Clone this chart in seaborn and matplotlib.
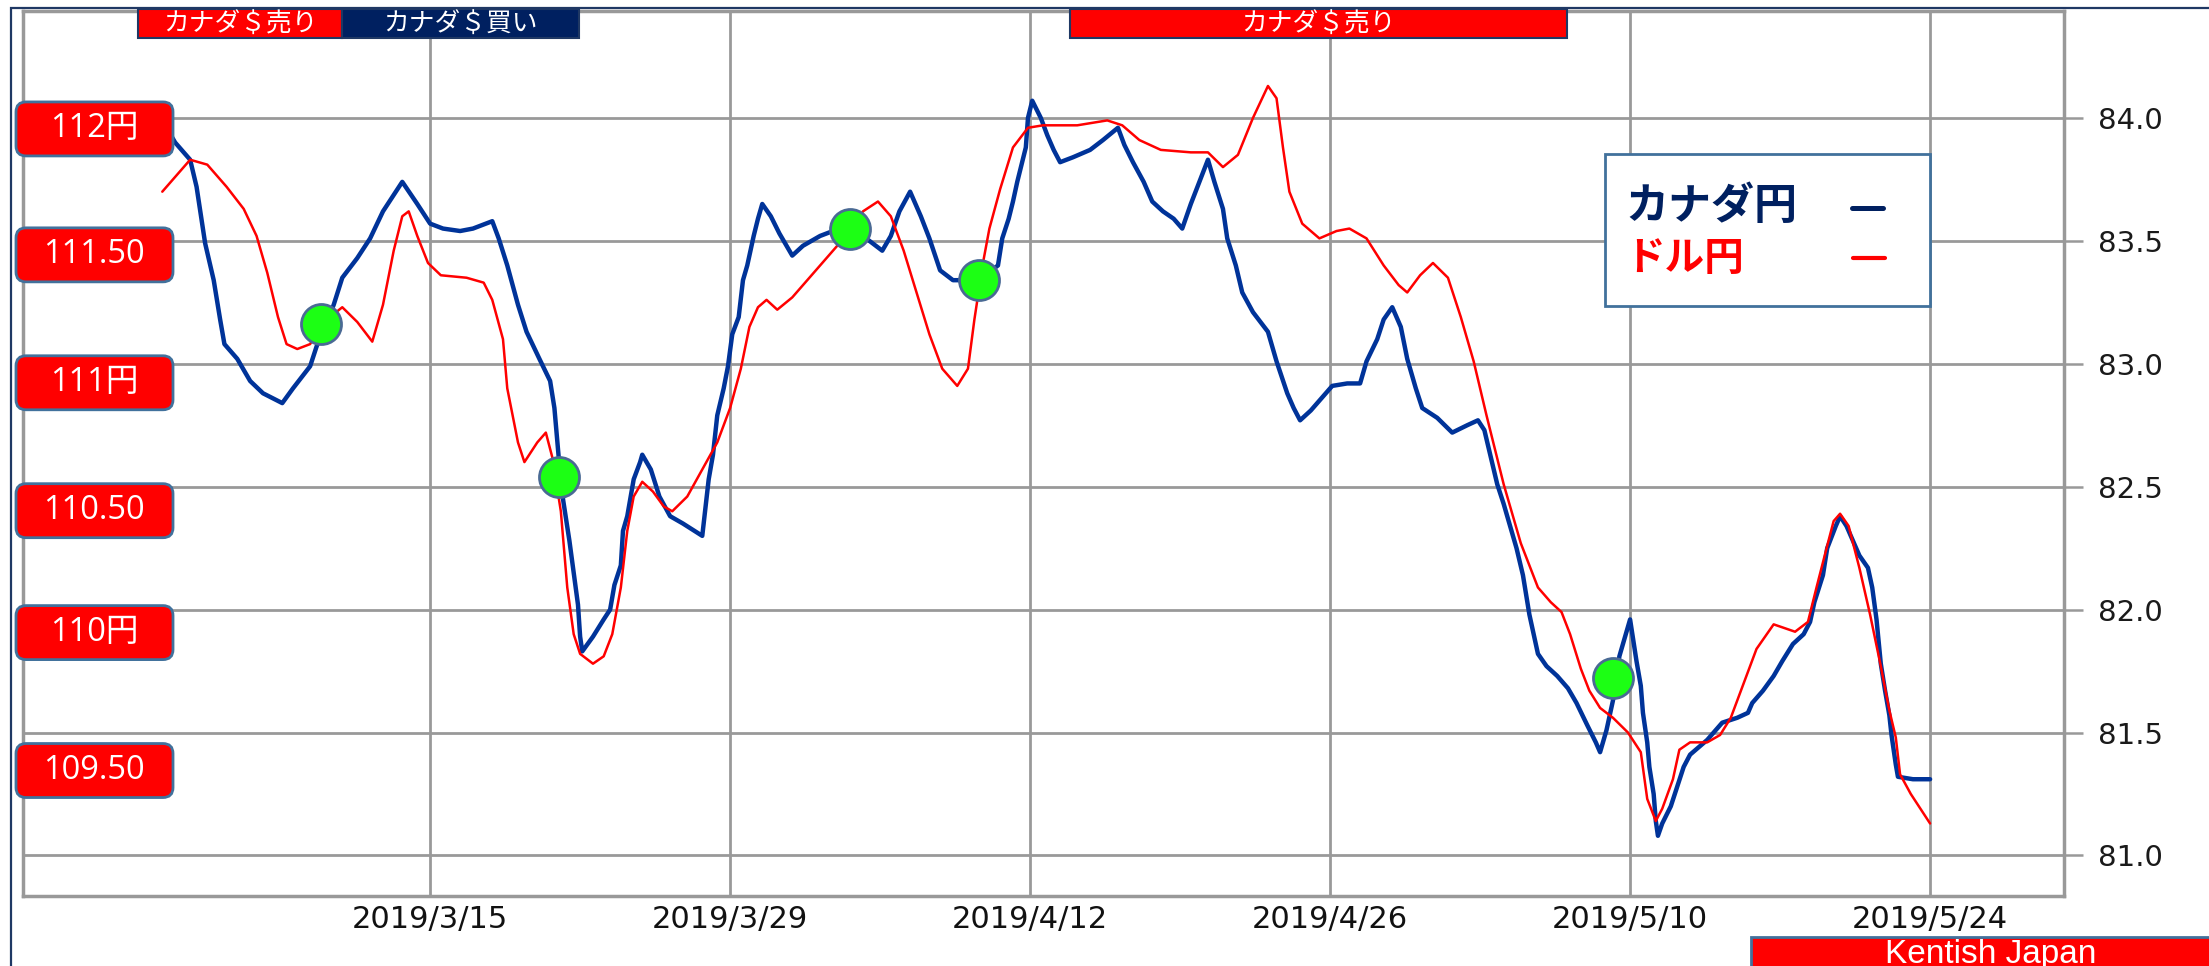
import numpy as np
import pandas as pd
import matplotlib
matplotlib.use("Agg")
import matplotlib.pyplot as plt
import matplotlib.dates as mdates
import seaborn as sns
from matplotlib.patches import Rectangle, FancyBboxPatch
from matplotlib.lines import Line2D
from matplotlib.transforms import IdentityTransform, blended_transform_factory

sns.set_theme(style="white")
plt.rcParams["font.family"] = ["DejaVu Sans", "Noto Sans CJK JP"]

# ==== data
base_date = pd.Timestamp("2019-03-01")

# カナダ円 (CAD/JPY, right axis); time in days since 2019-03-01
cad_day = [
    1.9, 2.1, 2.8, 3.1, 3.5, 3.9, 4.2, 4.4, 5.0, 5.6, 6.2, 7.1, 7.6, 8.4, 8.7,
    9.5, 9.9, 10.6, 11.2, 11.8, 12.4, 12.7, 13.4, 14.0, 14.6, 15.4, 16.0, 16.9,
    17.2, 17.6, 18.1, 18.5, 19.1, 19.6, 19.8, 20.0, 20.2, 20.5, 20.9, 21.0, 21.1,
    21.6, 22.1, 22.4, 22.6, 22.9, 23.0, 23.2, 23.5, 23.8, 23.9, 24.3, 24.7, 25.2,
    25.8, 26.7, 27.0, 27.2, 27.4, 27.7, 27.9, 28.1, 28.4, 28.6, 28.8, 29.1, 29.3,
    29.5, 29.9, 30.3, 30.9, 31.4, 32.2, 32.8, 33.7, 34.5, 35.1, 35.5, 35.9, 36.4,
    36.9, 37.3, 37.8, 38.4, 39.6, 40.5, 40.7, 41.0, 41.2, 41.4, 41.6, 41.8, 41.9,
    42.1, 42.5, 42.8, 43.1, 43.4, 44.0, 44.8, 45.4, 46.1, 46.4, 46.8, 47.3, 47.7,
    48.2, 48.7, 49.1, 49.5, 49.9, 50.3, 50.6, 51.0, 51.2, 51.6, 51.9, 52.4, 53.1,
    53.5, 54.0, 54.3, 54.6, 55.1, 55.7, 56.1, 56.8, 57.4, 57.7, 58.2, 58.5, 58.9,
    59.3, 59.6, 60.0, 60.3, 61.0, 61.7, 62.4, 62.9, 63.2, 63.5, 63.8, 64.1, 64.4,
    64.7, 65.0, 65.3, 65.7, 66.1, 66.6, 67.1, 67.5, 68.0, 68.4, 68.6, 68.9, 69.2,
    69.5, 69.9, 70.0, 70.3, 70.5, 70.6, 70.8, 70.9, 71.1, 71.2, 71.3, 71.5, 71.9,
    72.2, 72.5, 72.8, 73.2, 73.6, 74.0, 74.3, 75.0, 75.5, 75.7, 76.2, 76.7, 77.1,
    77.6, 78.1, 78.4, 78.6, 79.0, 79.2, 79.6, 79.8, 80.1, 80.4, 80.7, 81.1, 81.3,
    81.5, 81.7, 81.9, 82.1, 82.2, 82.4, 82.5, 83.2, 84.0,
]
cad_rate = [
    83.93, 83.90, 83.83, 83.72, 83.49, 83.34, 83.18, 83.08, 83.02, 82.93, 82.88,
    82.84, 82.90, 82.99, 83.07, 83.24, 83.35, 83.43, 83.51, 83.62, 83.70, 83.74,
    83.65, 83.57, 83.55, 83.54, 83.55, 83.58, 83.51, 83.40, 83.24, 83.13, 83.02,
    82.93, 82.82, 82.62, 82.45, 82.28, 82.02, 81.89, 81.83, 81.89, 81.96, 82.00,
    82.10, 82.18, 82.32, 82.38, 82.53, 82.60, 82.63, 82.57, 82.46, 82.38, 82.35,
    82.30, 82.53, 82.63, 82.79, 82.90, 82.99, 83.12, 83.19, 83.34, 83.40, 83.52,
    83.59, 83.65, 83.60, 83.53, 83.44, 83.48, 83.52, 83.54, 83.55, 83.50, 83.46,
    83.52, 83.62, 83.70, 83.60, 83.51, 83.38, 83.34, 83.34, 83.40, 83.51, 83.59,
    83.66, 83.74, 83.81, 83.88, 84.00, 84.07, 84.00, 83.93, 83.87, 83.82, 83.84,
    83.87, 83.91, 83.96, 83.89, 83.82, 83.74, 83.66, 83.62, 83.59, 83.55, 83.65,
    83.74, 83.83, 83.74, 83.63, 83.51, 83.40, 83.29, 83.21, 83.13, 83.01, 82.88,
    82.82, 82.77, 82.81, 82.87, 82.91, 82.92, 82.92, 83.01, 83.10, 83.18, 83.23,
    83.15, 83.02, 82.90, 82.82, 82.78, 82.72, 82.75, 82.77, 82.73, 82.62, 82.51,
    82.43, 82.34, 82.25, 82.14, 81.98, 81.82, 81.77, 81.73, 81.68, 81.62, 81.53,
    81.46, 81.42, 81.51, 81.63, 81.81, 81.93, 81.96, 81.79, 81.69, 81.58, 81.46,
    81.36, 81.25, 81.14, 81.08, 81.13, 81.20, 81.28, 81.36, 81.41, 81.44, 81.47,
    81.51, 81.54, 81.56, 81.58, 81.62, 81.67, 81.73, 81.79, 81.86, 81.90, 81.95,
    82.03, 82.14, 82.25, 82.34, 82.38, 82.34, 82.28, 82.22, 82.17, 82.09, 81.96,
    81.78, 81.67, 81.57, 81.49, 81.37, 81.32, 81.31, 81.31,
]

# ドル円 (USD/JPY, left scale)
usd_day = [
    1.5, 2.8, 3.6, 4.5, 5.3, 5.9, 6.4, 6.9, 7.3, 7.8, 8.4, 8.9, 9.9, 10.6, 11.3,
    11.8, 12.3, 12.7, 13.0, 13.4, 13.9, 14.5, 15.7, 16.5, 16.9, 17.4, 17.6, 18.1,
    18.4, 19.0, 19.4, 19.7, 20.1, 20.4, 20.7, 21.0, 21.6, 22.1, 22.5, 22.9, 23.2,
    23.5, 23.9, 24.4, 24.9, 25.3, 26.0, 26.7, 27.4, 28.0, 28.5, 28.9, 29.3, 29.7,
    30.2, 30.9, 31.7, 32.7, 33.7, 34.2, 34.9, 35.5, 36.1, 36.7, 37.3, 37.9, 38.6,
    39.1, 39.4, 39.8, 40.1, 40.6, 41.2, 41.9, 42.6, 44.2, 45.6, 46.3, 47.1, 48.1,
    49.5, 50.3, 51.0, 51.7, 52.4, 53.1, 53.5, 53.8, 54.1, 54.7, 55.5, 56.3, 56.9,
    57.7, 58.5, 59.2, 59.6, 60.2, 60.8, 61.5, 62.1, 62.7, 63.3, 64.1, 64.9, 65.7,
    66.3, 66.8, 67.2, 67.7, 68.1, 68.6, 69.2, 69.9, 70.5, 70.8, 71.2, 71.5, 72.0,
    72.3, 72.8, 73.6, 74.2, 74.7, 75.3, 75.9, 76.7, 77.7, 78.3, 78.7, 79.2, 79.5,
    79.8, 80.2, 80.7, 81.2, 81.7, 82.1, 82.4, 82.6, 83.1, 84.0,
]
usd_rate = [
    111.70, 111.83, 111.81, 111.72, 111.63, 111.52, 111.37, 111.19, 111.08,
    111.06, 111.08, 111.16, 111.23, 111.17, 111.09, 111.24, 111.46, 111.60,
    111.62, 111.52, 111.41, 111.36, 111.35, 111.33, 111.26, 111.10, 110.90,
    110.68, 110.60, 110.68, 110.72, 110.62, 110.40, 110.09, 109.90, 109.82,
    109.78, 109.81, 109.90, 110.09, 110.32, 110.46, 110.52, 110.48, 110.42,
    110.40, 110.46, 110.57, 110.68, 110.82, 110.98, 111.15, 111.23, 111.26,
    111.22, 111.27, 111.35, 111.45, 111.55, 111.62, 111.66, 111.60, 111.46,
    111.29, 111.12, 110.98, 110.91, 110.98, 111.18, 111.41, 111.55, 111.71,
    111.88, 111.96, 111.97, 111.97, 111.99, 111.97, 111.91, 111.87, 111.86,
    111.86, 111.80, 111.85, 112.00, 112.13, 112.08, 111.88, 111.70, 111.57,
    111.51, 111.54, 111.55, 111.51, 111.40, 111.32, 111.29, 111.36, 111.41,
    111.35, 111.19, 111.01, 110.79, 110.51, 110.27, 110.09, 110.03, 109.99,
    109.90, 109.76, 109.67, 109.60, 109.56, 109.50, 109.42, 109.23, 109.14,
    109.19, 109.31, 109.43, 109.46, 109.46, 109.49, 109.56, 109.70, 109.84,
    109.94, 109.91, 109.95, 110.09, 110.26, 110.36, 110.39, 110.34, 110.17,
    109.98, 109.77, 109.59, 109.48, 109.33, 109.25, 109.13,
]

# signals (green dots on ドル円)
signal_day = [8.9, 20.0, 33.6, 39.6, 69.2]
signal_usd = [111.16, 110.54, 111.55, 111.34, 109.72]

# position periods shown on top
period_start = ["2019-03-01 09:00", "2019-03-10 21:00", "2019-04-13 21:00"]
period_end = ["2019-03-10 21:00", "2019-03-21 23:00", "2019-05-07 01:00"]
period_label = ["カナダ＄売り", "カナダ＄買い", "カナダ＄売り"]

# axes labels
cad_ticks = [81.0, 81.5, 82.0, 82.5, 83.0, 83.5, 84.0]
usd_levels = [112.0, 111.5, 111.0, 110.5, 110.0, 109.5]
usd_level_labels = ["112円", "111.50", "111円", "110.50", "110円", "109.50"]
date_ticks = ["2019-03-15", "2019-03-29", "2019-04-12", "2019-04-26", "2019-05-10", "2019-05-24"]
date_labels = ["2019/3/15", "2019/3/29", "2019/4/12", "2019/4/26", "2019/5/10", "2019/5/24"]
# ====

NAVY = "#003399"
DARK_NAVY = "#002060"
RED = "#ff0000"
GRID = "#999999"
EDGE = "#41719c"
CJK = ["Noto Sans CJK JP", "DejaVu Sans"]

W, H = 2209, 966
fig = plt.figure(figsize=(W / 100, H / 100), dpi=100)
ax = fig.add_axes([23 / W, 70 / H, 2041 / W, 885 / H])
ax_usd = ax.twinx()

cad = pd.DataFrame({"time": base_date + pd.to_timedelta(cad_day, unit="D"), "rate": cad_rate})
usd = pd.DataFrame({"time": base_date + pd.to_timedelta(usd_day, unit="D"), "rate": usd_rate})
sig = pd.DataFrame({"time": base_date + pd.to_timedelta(signal_day, unit="D"), "rate": signal_usd})

sns.lineplot(data=cad, x="time", y="rate", ax=ax, color=NAVY, linewidth=3.2,
             estimator=None, sort=False)
sns.lineplot(data=usd, x="time", y="rate", ax=ax_usd, color=RED, linewidth=1.8,
             estimator=None, sort=False)
sns.scatterplot(data=sig, x="time", y="rate", ax=ax_usd, s=830, color="#1cff14",
                edgecolor="#4a6a94", linewidth=2, zorder=6)

ax.set_xlim(pd.Timestamp("2019-02-24"), pd.Timestamp("2019-05-30 06:00"))
ax.set_ylim(80.835, 84.435)
ax_usd.set_ylim(80.835 + 28, 84.435 + 28)

ax.set_xlabel("")
ax.set_ylabel("")
ax_usd.set_ylabel("")
ax.set_xticks(pd.to_datetime(date_ticks))
ax.set_xticklabels(date_labels)
ax.yaxis.tick_right()
ax.set_yticks(cad_ticks)
ax.set_yticklabels([f"{v:.1f}" for v in cad_ticks])
ax.tick_params(axis="y", right=True, left=False, labelright=True, labelleft=False,
               direction="out", length=13.7, width=1.8, color=GRID, labelsize=21,
               pad=11, labelcolor="#1a1a1a")
ax.tick_params(axis="x", bottom=True, length=0, pad=6.5, labelsize=22, labelcolor="#111111")
ax_usd.set_yticks([])
ax_usd.tick_params(right=False, labelright=False)

ax.grid(True, color=GRID, linewidth=2.0)
ax.set_axisbelow(True)
for s in ax.spines.values():
    s.set_visible(True)
    s.set_color(GRID)
    s.set_linewidth(2.5)
for s in ax_usd.spines.values():
    s.set_visible(False)

# position bars along the top
top_tr = blended_transform_factory(ax_usd.transData, ax_usd.transAxes)
for st, en, lab in zip(period_start, period_end, period_label):
    x0 = mdates.date2num(pd.Timestamp(st))
    x1 = mdates.date2num(pd.Timestamp(en))
    col = RED if "売" in lab else DARK_NAVY
    ax_usd.add_patch(Rectangle((x0, 0.9695), x1 - x0, 0.0328, transform=top_tr,
                               facecolor=col, edgecolor="#1f3864", linewidth=1.5,
                               clip_on=False, zorder=10))
    ax_usd.text((x0 + x1) / 2, 0.986, lab, transform=top_tr, ha="center", va="center",
                color="white", fontsize=18.5, family=CJK, clip_on=False, zorder=11)

# ドル円 level boxes on the left
px = IdentityTransform()
box_drop = [11, 14, 19, 24, 23, 38]
for lev, lab, drop in zip(usd_levels, usd_level_labels, box_drop):
    yc = ax_usd.transData.transform((0, lev))[1] - drop
    fig.add_artist(FancyBboxPatch((16, yc - 27), 157, 54,
                                  boxstyle="round,pad=0,rounding_size=10",
                                  transform=px, facecolor=RED, edgecolor=EDGE,
                                  linewidth=2, zorder=5))
    fig.text(94, yc, lab, transform=px, ha="center", va="center", color="white",
             fontsize=23.5, family=["Open Sans", "Noto Sans CJK JP"], zorder=6)

# legend box
fig.add_artist(Rectangle((1605, H - 306), 325, 152, transform=px, facecolor="white",
                         edgecolor=EDGE, linewidth=2, zorder=5))
fig.text(1625, H - 206, "カナダ円", transform=px, ha="left", va="center",
         color=DARK_NAVY, fontsize=31, fontweight="bold", family=CJK, zorder=6)
fig.text(1625, H - 258, "ドル円", transform=px, ha="left", va="center",
         color=RED, fontsize=28.5, fontweight="bold", family=CJK, zorder=6)
fig.add_artist(Line2D([1852, 1883], [H - 208, H - 208], transform=px, color=DARK_NAVY,
                      linewidth=3.6, zorder=6))
fig.add_artist(Line2D([1853, 1885], [H - 258, H - 258], transform=px, color=RED,
                      linewidth=3.0, zorder=6))

# credit box
fig.add_artist(Rectangle((1751, -10), 480, H - 937 + 10, transform=px, facecolor=RED,
                         edgecolor=EDGE, linewidth=2, zorder=5))
fig.text(1991, H - 963, "Kentish Japan", transform=px, ha="center", va="baseline",
         color="white", fontsize=24, family=["Liberation Sans", "DejaVu Sans"],
         zorder=6)

# outer frame
fig.add_artist(Rectangle((11, -10), W + 20, H - 8 + 10, transform=px, facecolor="none",
                         edgecolor="#1f3864", linewidth=1.6, zorder=0.5))

fig.savefig("out.png", dpi=100)
